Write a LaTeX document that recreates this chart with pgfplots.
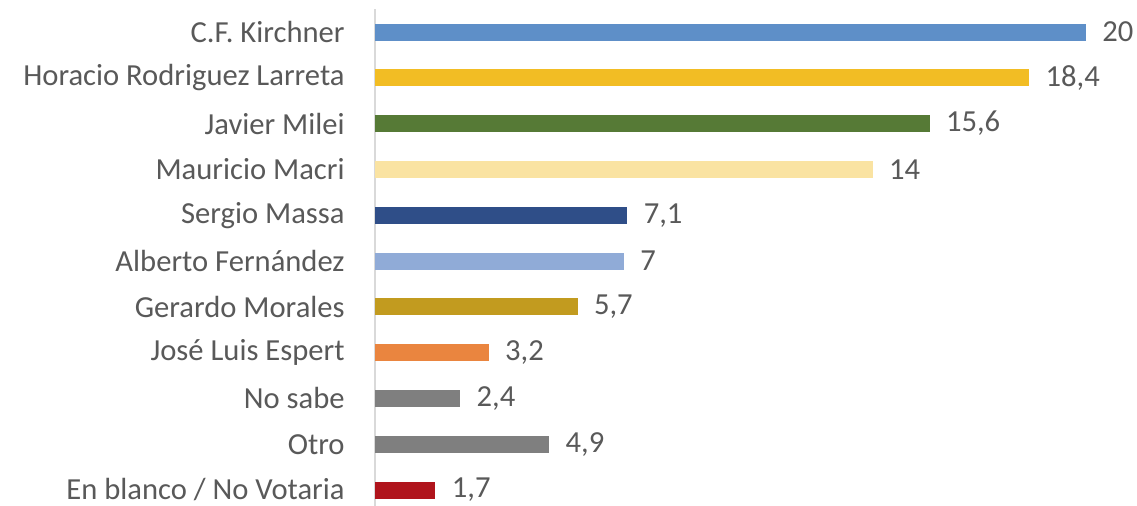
\documentclass[border=0pt]{standalone}
\usepackage{fontspec}
\setmainfont{Carlito}
\usepackage{pgfplots}
\pgfplotsset{compat=1.18}
\definecolor{txt}{HTML}{595959}
\definecolor{cKir}{HTML}{5E8FC8}
\definecolor{cLar}{HTML}{F2BD24}
\definecolor{cMil}{HTML}{567A36}
\definecolor{cMac}{HTML}{FAE3A2}
\definecolor{cMas}{HTML}{2F4E88}
\definecolor{cFer}{HTML}{90ABD7}
\definecolor{cMor}{HTML}{C29B1F}
\definecolor{cEsp}{HTML}{EA853F}
\definecolor{cGry}{HTML}{7F7F7F}
\definecolor{cBla}{HTML}{B0141C}
\newcommand\lbl{\fontsize{15.3}{17}\selectfont}
\begin{document}
\begin{tikzpicture}
\useasboundingbox (0,0) rectangle (568.5pt,252.5pt);
\begin{axis}[
  at={(187.5pt,-3.95pt)}, anchor=south west,
  scale only axis, width=382.2pt, height=251.9pt,
  xbar, bar width=8.5pt,
  xmin=0, xmax=21.5, ymin=-0.5, ymax=10.5, y dir=reverse,
  axis x line=none, axis y line*=left,
  y axis line style={draw=black!15, line width=0.8pt},
  ytick={0,...,10},
  yticklabels={C.F. Kirchner, Horacio Rodriguez Larreta, Javier Milei,
    Mauricio Macri, Sergio Massa, Alberto Fernández, Gerardo Morales,
    José Luis Espert, No sabe, Otro, En blanco / No Votaria},
  major tick length=0pt, ytick style={draw=none},
  yticklabel style={font=\lbl, text=txt, inner sep=0pt, xshift=-15pt},
  point meta=x,
  nodes near coords={\pgfmathprintnumber[use comma,fixed,precision=1,assume math mode=true]{\pgfplotspointmeta}},
  nodes near coords style={font=\lbl, text=txt, inner sep=0pt, anchor=west, xshift=8pt},
  every axis plot/.append style={draw=none, bar shift=0pt},
]
\addplot[fill=cKir] coordinates {(20,0)};
\addplot[fill=cLar] coordinates {(18.4,1)};
\addplot[fill=cMil] coordinates {(15.6,2)};
\addplot[fill=cMac] coordinates {(14,3)};
\addplot[fill=cMas] coordinates {(7.1,4)};
\addplot[fill=cFer] coordinates {(7,5)};
\addplot[fill=cMor] coordinates {(5.7,6)};
\addplot[fill=cEsp] coordinates {(3.2,7)};
\addplot[fill=cGry] coordinates {(2.4,8)};
\addplot[fill=cGry] coordinates {(4.9,9)};
\addplot[fill=cBla] coordinates {(1.7,10)};
\end{axis}
\end{tikzpicture}
\end{document}
